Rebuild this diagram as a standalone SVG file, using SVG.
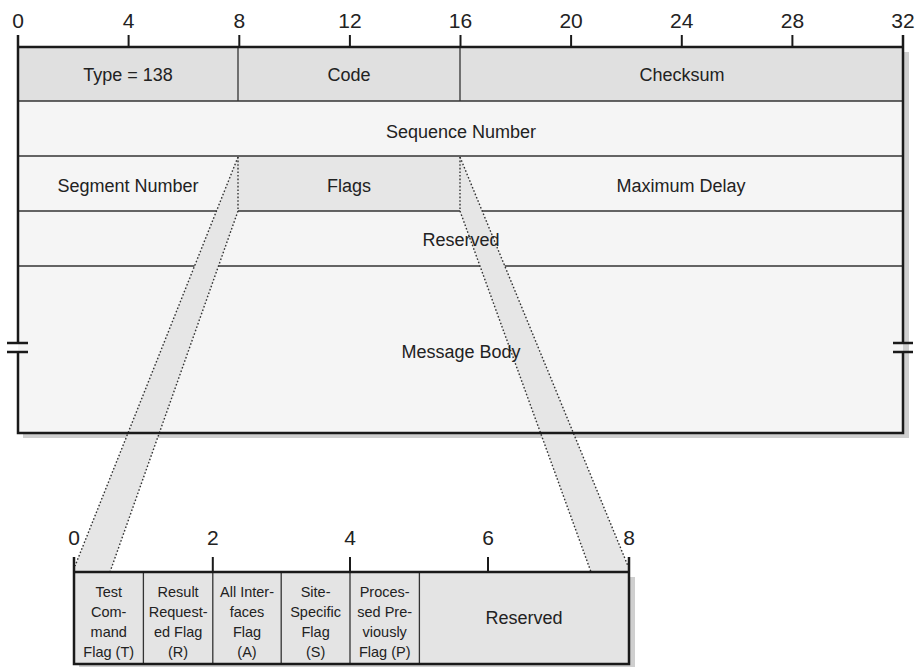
<svg xmlns="http://www.w3.org/2000/svg" width="920" height="667" viewBox="0 0 920 667">
<style>
  .lbl{font-family:"Liberation Sans",Arial,sans-serif;font-size:18px;fill:#222;text-anchor:middle}
  .num{font-family:"Liberation Sans",Arial,sans-serif;font-size:21px;fill:#222;text-anchor:middle}
  .sm{font-family:"Liberation Sans",Arial,sans-serif;font-size:14.5px;fill:#222;text-anchor:middle}
  .frame{stroke:#1a1a1a;stroke-width:2.5;fill:none}
  .div{stroke:#333;stroke-width:1.3;fill:none}
  .tick{stroke:#1a1a1a;stroke-width:2}
  .dot{stroke:#333;stroke-width:1.4;stroke-dasharray:1.6 2;fill:none}
  .band{fill:#e6e6e6}
  .shadow{fill:#cfcfcf}
</style>
<rect width="920" height="667" fill="#ffffff"/>

<!-- shadows -->
<rect class="shadow" x="23" y="52" width="886" height="386"/>
<rect class="shadow" x="79" y="577" width="556" height="92"/>

<!-- main frame fills -->
<g id="row-type">
  <rect x="18" y="47" width="220" height="54" fill="#e0e0e0"/>
  <text class="lbl" x="128" y="81">Type = 138</text>
</g>
<g id="row-code">
  <rect x="238" y="47" width="222" height="54" fill="#e0e0e0"/>
  <text class="lbl" x="349" y="81">Code</text>
</g>
<g id="row-checksum">
  <rect x="460" y="47" width="443" height="54" fill="#e0e0e0"/>
  <text class="lbl" x="682" y="81">Checksum</text>
</g>
<g id="row-sequence">
  <rect x="18" y="101" width="885" height="55" fill="#f5f5f5"/>
</g>
<g id="row-segment">
  <rect x="18" y="156" width="220" height="55" fill="#f5f5f5"/>
</g>
<g id="row-flags">
  <rect x="238" y="156" width="222" height="55" fill="#e6e6e6"/>
</g>
<g id="row-maxdelay">
  <rect x="460" y="156" width="443" height="55" fill="#f5f5f5"/>
</g>
<g id="row-reserved">
  <rect x="18" y="211" width="885" height="55" fill="#f5f5f5"/>
</g>
<g id="row-body">
  <rect x="18" y="266" width="885" height="167" fill="#f5f5f5"/>
</g>

<!-- divider lines -->
<g id="dividers">
  <line class="div" x1="18" y1="101" x2="903" y2="101"/>
  <line class="div" x1="18" y1="156" x2="903" y2="156"/>
  <line class="div" x1="18" y1="211" x2="903" y2="211"/>
  <line class="div" x1="18" y1="266" x2="903" y2="266"/>
  <line class="div" x1="238" y1="47" x2="238" y2="101"/>
  <line class="div" x1="460" y1="47" x2="460" y2="101"/>
</g>

<!-- bottom flags box -->
<g id="flags-box">
  <rect x="74" y="572" width="555" height="92" fill="#e4e4e4"/>
  <g class="div">
    <line x1="143.4" y1="572" x2="143.4" y2="664"/>
    <line x1="212.8" y1="572" x2="212.8" y2="664"/>
    <line x1="281.2" y1="572" x2="281.2" y2="664"/>
    <line x1="350" y1="572" x2="350" y2="664"/>
    <line x1="419.4" y1="572" x2="419.4" y2="664"/>
  </g>
</g>

<!-- connectors (zoom bands) -->
<g id="connectors">
  <polygon class="band" points="238,157 238,211 110,572 74,572 75,566"/>
  <polygon class="band" points="460,157 460,211 591,572 629,572 628,566"/>
  <line class="dot" x1="238" y1="157" x2="75" y2="566"/>
  <line class="dot" x1="238" y1="211" x2="110" y2="572"/>
  <line class="dot" x1="238" y1="157" x2="238" y2="211"/>
  <line class="dot" x1="460" y1="157" x2="628" y2="566"/>
  <line class="dot" x1="460" y1="211" x2="591" y2="572"/>
  <line class="dot" x1="460" y1="157" x2="460" y2="211"/>
</g>

<!-- frame outline and ruler -->
<g id="frame">
  <line class="frame" x1="18" y1="47" x2="903" y2="47"/>
  <path class="frame" d="M18 35 V343 M18 352 V433 H903 V352 M903 343 V35"/>
  <line class="frame" x1="7" y1="343" x2="28" y2="343"/>
  <line class="frame" x1="7" y1="352" x2="28" y2="352"/>
  <line class="frame" x1="893" y1="343" x2="913" y2="343"/>
  <line class="frame" x1="893" y1="352" x2="913" y2="352"/>
  <g class="tick">
    <line x1="128.6" y1="35" x2="128.6" y2="47"/>
    <line x1="239.3" y1="35" x2="239.3" y2="47"/>
    <line x1="349.9" y1="35" x2="349.9" y2="47"/>
    <line x1="460.5" y1="35" x2="460.5" y2="47"/>
    <line x1="571.1" y1="35" x2="571.1" y2="47"/>
    <line x1="681.8" y1="35" x2="681.8" y2="47"/>
    <line x1="792.4" y1="35" x2="792.4" y2="47"/>
  </g>
  <g id="ruler-top-labels">
    <text class="num" x="18" y="28">0</text>
    <text class="num" x="128.6" y="28">4</text>
    <text class="num" x="239.3" y="28">8</text>
    <text class="num" x="349.9" y="28">12</text>
    <text class="num" x="460.5" y="28">16</text>
    <text class="num" x="571.1" y="28">20</text>
    <text class="num" x="681.8" y="28">24</text>
    <text class="num" x="792.4" y="28">28</text>
    <text class="num" x="903" y="28">32</text>
  </g>
</g>

<!-- flags box outline and ruler -->
<g id="flags-frame">
  <line class="frame" x1="74" y1="572" x2="629" y2="572"/>
  <path class="frame" d="M74 557 V664 H629 V557"/>
  <g class="tick">
    <line x1="212.8" y1="557" x2="212.8" y2="572"/>
    <line x1="350" y1="557" x2="350" y2="572"/>
    <line x1="488" y1="557" x2="488" y2="572"/>
  </g>
  <text class="num" x="74" y="545">0</text>
  <text class="num" x="212.8" y="545">2</text>
  <text class="num" x="350" y="545">4</text>
  <text class="num" x="488" y="545">6</text>
  <text class="num" x="629" y="545">8</text>
</g>

<!-- main labels (on top of bands) -->
<g id="main-labels">
  <text class="lbl" x="461" y="138">Sequence Number</text>
  <text class="lbl" x="128" y="192">Segment Number</text>
  <text class="lbl" x="349" y="192">Flags</text>
  <text class="lbl" x="681" y="192">Maximum Delay</text>
  <text class="lbl" x="461" y="246">Reserved</text>
  <text class="lbl" x="461" y="358">Message Body</text>
</g>

<g id="flag-T">
  <text class="sm" x="108.7"><tspan x="108.7" y="597">Test</tspan><tspan x="108.7" y="617">Com-</tspan><tspan x="108.7" y="637">mand</tspan><tspan x="108.7" y="657">Flag (T)</tspan></text>
</g>
<g id="flag-R">
  <text class="sm" x="178.1"><tspan x="178.1" y="597">Result</tspan><tspan x="178.1" y="617">Request-</tspan><tspan x="178.1" y="637">ed Flag</tspan><tspan x="178.1" y="657">(R)</tspan></text>
</g>
<g id="flag-A">
  <text class="sm" x="247"><tspan x="247" y="597">All Inter-</tspan><tspan x="247" y="617">faces</tspan><tspan x="247" y="637">Flag</tspan><tspan x="247" y="657">(A)</tspan></text>
</g>
<g id="flag-S">
  <text class="sm" x="315.6"><tspan x="315.6" y="597">Site-</tspan><tspan x="315.6" y="617">Specific</tspan><tspan x="315.6" y="637">Flag</tspan><tspan x="315.6" y="657">(S)</tspan></text>
</g>
<g id="flag-P">
  <text class="sm" x="384.7"><tspan x="384.7" y="597">Proces-</tspan><tspan x="384.7" y="617">sed Pre-</tspan><tspan x="384.7" y="637">viously</tspan><tspan x="384.7" y="657">Flag (P)</tspan></text>
</g>
<g id="flag-reserved">
  <text class="lbl" x="524" y="624">Reserved</text>
</g>
</svg>
